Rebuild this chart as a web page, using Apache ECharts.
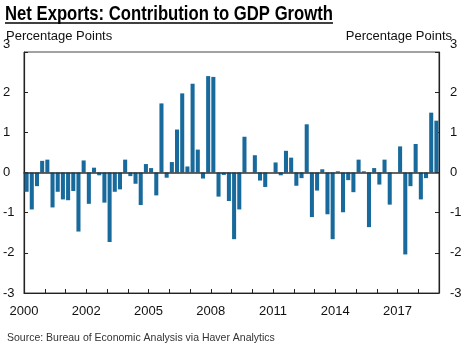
<!DOCTYPE html>
<html>
<head>
<meta charset="utf-8">
<script src="https://cdn.jsdelivr.net/npm/echarts@6/dist/echarts.min.js"></script>
<style>
html,body{margin:0;padding:0;background:#fff;}
#chart{width:471px;height:345px;}
</style>
</head>
<body>
<div id="chart"></div>
<script>
// ---- Data ----
const years = [2000, 2001, 2002, 2003, 2004, 2005, 2006, 2007, 2008, 2009,
               2010, 2011, 2012, 2013, 2014, 2015, 2016, 2017, 2018, 2019];
const quarters = ['Q1', 'Q2', 'Q3', 'Q4'];
const netExports = [
  -0.48, -0.92, -0.34, 0.29, 0.32, -0.87, -0.48, -0.67, -0.69, -0.46,
  -1.47, 0.30, -0.78, 0.12, -0.07, -0.75, -1.73, -0.48, -0.42, 0.32,
  -0.09, -0.28, -0.81, 0.21, 0.11, -0.57, 1.72, -0.13, 0.26, 1.07,
  1.97, 0.15, 2.21, 0.57, -0.15, 2.40, 2.38, -0.60, -0.06, -0.71,
  -1.66, -0.92, 0.89, 0.00, 0.43, -0.20, -0.36, 0.00, 0.25, -0.07,
  0.54, 0.37, -0.33, -0.14, 1.20, -1.11, -0.45, 0.08, -1.04, -1.66,
  0.03, -0.99, -0.19, -0.49, 0.32, 0.03, -1.36, 0.11, -0.30, 0.32,
  -0.80, 0.00, 0.65, -2.04, -0.34, 0.71, -0.67, -0.14, 1.49, 1.29
];
const xTickLabels = ['2000', '2002', '2005', '2008', '2011', '2014', '2017'];
const xLabelPositions = [0, 12, 24, 36, 48, 60, 72];   // category boundaries
const xTickPositions = [0, 4, 8, 12, 16, 20, 24, 28, 32, 36, 40, 44, 48, 52, 56, 60, 64, 68, 72, 76, 80];

const categories = [];
years.forEach(y => quarters.forEach(q => categories.push(y + q)));

const TITLE = 'Net Exports: Contribution to GDP Growth';

// ---- Chart ----
const chart = echarts.init(document.getElementById('chart'), null, {renderer: 'canvas'});
const FONT = 'Liberation Sans, Arial, Helvetica, sans-serif';
const TITLE_FONT = 'bold 20px "Liberation Sans", Arial, sans-serif';
const labelFmt = v => (v === 3 ? '{t|' + v + '}' : String(v));
const richTop = {t: {padding: [0, 0, 16, 0], fontSize: 13, fontFamily: FONT, color: '#111'}};

// fit the bold title into a condensed width
const ctx = document.createElement('canvas').getContext('2d');
ctx.font = TITLE_FONT;
const titleW = ctx.measureText(TITLE).width;
const TARGET_W = 328;
const sx = TARGET_W / titleW;

chart.setOption({
  animation: false,
  backgroundColor: '#fff',
  title: [
    {text: 'Percentage Points', left: 1, top: 25,
     textStyle: {fontFamily: FONT, fontWeight: 'normal', fontSize: 13, color: '#111'}},
    {text: 'Percentage Points', right: 14, top: 25,
     textStyle: {fontFamily: FONT, fontWeight: 'normal', fontSize: 13, color: '#111'}},
    {text: 'Source: Bureau of Economic Analysis via Haver Analytics', left: 2, top: 328,
     textStyle: {fontFamily: FONT, fontWeight: 'normal', fontSize: 10.5, color: '#333'}}
  ],
  graphic: [
    {type: 'text', x: 5, y: 4, scaleX: sx, scaleY: 1,
     style: {text: TITLE, font: TITLE_FONT, fill: '#000', textVerticalAlign: 'top'}},
    {type: 'line', shape: {x1: 5, y1: 23, x2: 5 + TARGET_W, y2: 23},
     style: {stroke: '#000', lineWidth: 1.6}}
  ],
  grid: {left: 22, right: 32, top: 52, bottom: 52, show: true,
         borderColor: '#444', borderWidth: 1, backgroundColor: 'transparent'},
  xAxis: [
    {type: 'category', data: categories, position: 'top', boundaryGap: true,
     axisLine: {show: true, onZero: true, lineStyle: {color: '#333', width: 1.5}},
     axisTick: {show: false}, axisLabel: {show: false}, splitLine: {show: false}, z: 5},
    {type: 'value', position: 'bottom', min: 0, max: categories.length,
     axisLine: {show: true, onZero: false, lineStyle: {color: '#222', width: 1.2}},
     axisTick: {show: true, inside: true, length: 4, customValues: xTickPositions,
                lineStyle: {color: '#222', width: 1}},
     axisLabel: {show: true, customValues: xLabelPositions, margin: 12,
                 fontFamily: FONT, fontSize: 13, color: '#111',
                 formatter: v => xTickLabels[xLabelPositions.indexOf(v)] || ''},
     splitLine: {show: false}}
  ],
  yAxis: [
    {type: 'value', position: 'left', min: -3, max: 3, interval: 1,
     axisLine: {show: true, lineStyle: {color: '#222', width: 1.2}},
     axisTick: {show: true, inside: true, length: 4, lineStyle: {color: '#222'}},
     axisLabel: {margin: 21, align: 'left', fontFamily: FONT, fontSize: 13, color: '#111',
                 formatter: labelFmt, rich: richTop},
     splitLine: {show: false}},
    {type: 'value', position: 'right', min: -3, max: 3, interval: 1,
     axisLine: {show: true, lineStyle: {color: '#222', width: 1.2}},
     axisTick: {show: true, inside: true, length: 4, lineStyle: {color: '#222'}},
     axisLabel: {margin: 11, align: 'left', fontFamily: FONT, fontSize: 13, color: '#111',
                 formatter: labelFmt, rich: richTop},
     splitLine: {show: false}}
  ],
  series: [
    {type: 'bar', xAxisIndex: 0, yAxisIndex: 0, data: netExports,
     barCategoryGap: '22%', itemStyle: {color: '#176a9b'}}
  ]
});
</script>
</body>
</html>
